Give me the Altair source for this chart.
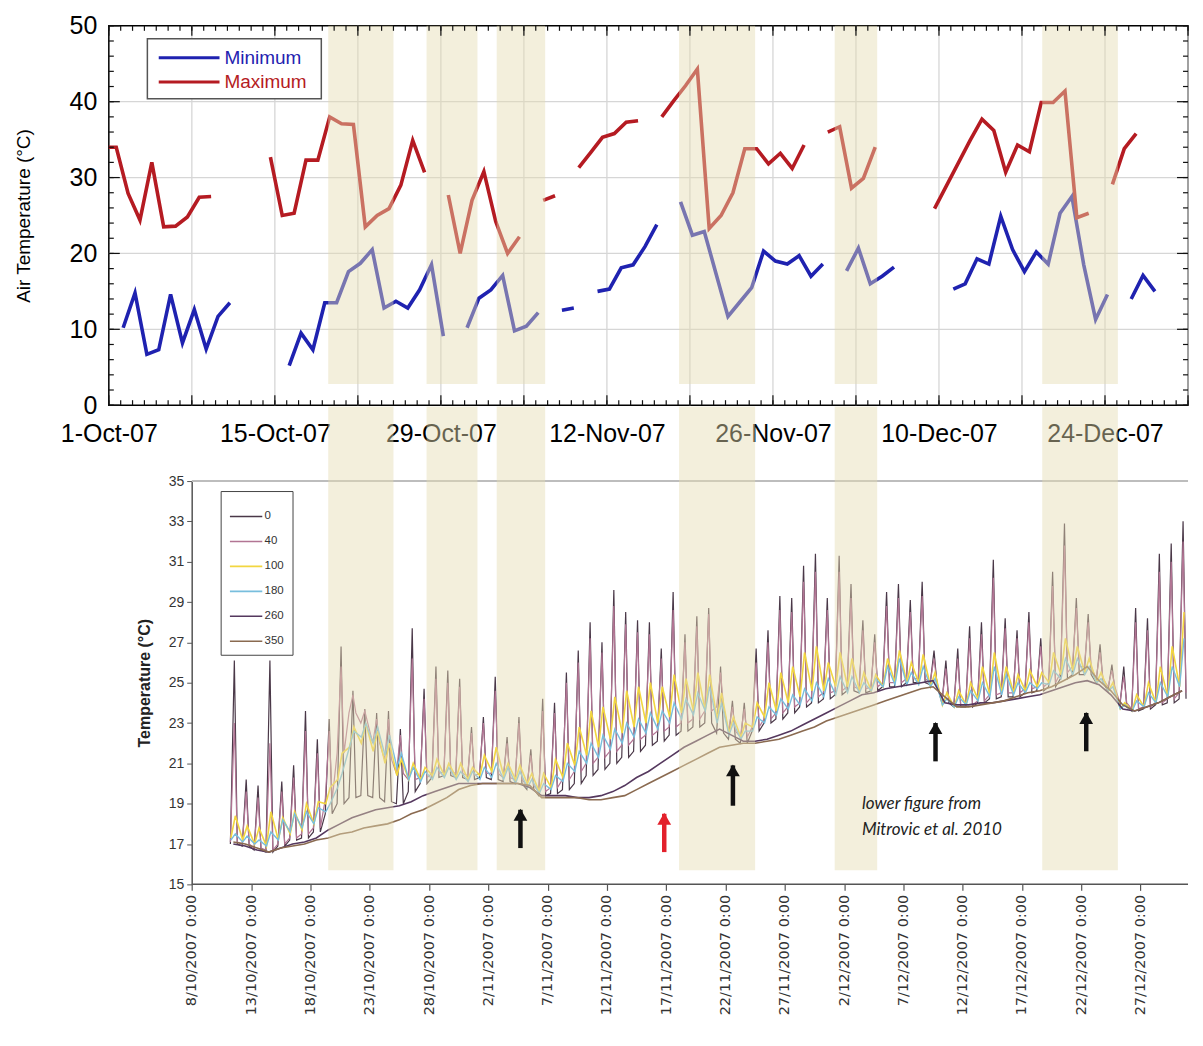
import altair as alt
import pandas as pd

# ---------------- TOP PANEL : daily air temperature (°C) ----------------
MIN_STARTS = ["2007-10-02", "2007-10-16", "2007-10-31", "2007-11-08", "2007-11-11",
              "2007-11-18", "2007-12-02", "2007-12-11", "2007-12-26"]
MIN_VALUES = [
    [10.2, 14.8, 6.7, 7.3, 14.6, 8.2, 12.6, 7.4, 11.7, 13.5],
    [5.2, 9.5, 7.3, 13.5, 13.5, 17.6, 18.7, 20.5, 12.8, 13.7, 12.8, 15.2, 18.5, 9.1],
    [10.2, 14.1, 15.2, 17.1, 9.8, 10.4, 12.2],
    [12.5, 12.8],
    [15.0, 15.3, 18.1, 18.5, 20.9, 23.8],
    [26.8, 22.4, 22.9, 17.3, 11.7, 13.6, 15.5, 20.3, 19.0, 18.6, 19.7, 17.0, 18.6],
    [17.7, 20.7, 16.0, 17.0, 18.2],
    [15.3, 16.0, 19.3, 18.6, 24.9, 20.5, 17.6, 20.2, 18.6, 25.3, 27.5, 18.5, 11.3, 14.6],
    [14.0, 17.1, 15.0],
]
MAX_STARTS = ["2007-09-30", "2007-10-14", "2007-10-29", "2007-11-06", "2007-11-09",
              "2007-11-16", "2007-11-30", "2007-12-09", "2007-12-24"]
MAX_VALUES = [
    [34.0, 34.0, 27.9, 24.4, 32.0, 23.5, 23.6, 24.8, 27.4, 27.5],
    [32.7, 25.0, 25.3, 32.3, 32.3, 38.0, 37.1, 37.0, 23.5, 25.0, 25.9, 29.0, 34.9, 30.7],
    [27.7, 20.0, 27.0, 30.8, 24.2, 20.0, 22.2],
    [27.0, 27.6],
    [31.3, 33.3, 35.3, 35.8, 37.3, 37.5],
    [38.0, 40.1, 42.1, 44.3, 23.3, 25.0, 28.0, 33.8, 33.8, 31.8, 33.2, 31.2, 34.3],
    [36.0, 36.7, 28.6, 29.9, 34.0],
    [25.9, 28.9, 31.9, 34.9, 37.7, 36.2, 30.7, 34.3, 33.4, 39.9, 39.9, 41.4, 24.7, 25.3],
    [29.1, 33.8, 35.8],
]

# shaded periods (common to both panels)
BAND_START = ["2007-10-19T12:00", "2007-10-27T19:00", "2007-11-02T17:00",
              "2007-11-18T02:00", "2007-12-01T05:00", "2007-12-18T17:00"]
BAND_END = ["2007-10-25T00:00", "2007-11-01T02:00", "2007-11-06T19:00",
            "2007-11-24T12:00", "2007-12-04T19:00", "2007-12-25T02:00"]

# ---------------- BOTTOM PANEL : water temperature by depth (°C) ----------------
FIRST_DAY = "2007-10-11"
DEPTHS = ["0", "40", "100", "180", "260", "350"]
COLORS = ["#4a3848", "#b27594", "#f2d640", "#78bedd", "#55385e", "#8a6a50"]

PEAK_0 = [26.1, 20.2, 19.9, 26.1, 20.1, 20.9, 23.6, 22.2,
          23.2, 26.8, 24.6, 23.7, 23.5, 23.6, 22.7,
          27.7, 24.7, 25.8, 25.6, 25.2, 22.8, 23.3, 25.3, 22.3, 23.3, 21.7,
          24.2, 24.0, 25.5, 26.6, 28.0, 27.0, 29.6, 28.5, 28.1, 28.0, 26.7, 29.5, 27.4, 28.3, 28.7,
          25.8, 24.1, 24.0,
          26.7, 27.6, 29.3, 29.2, 30.8, 31.4, 29.2, 31.3, 29.9, 28.1,
          27.4, 29.5, 29.9, 29.1, 30.0, 26.6,
          26.1, 26.7, 27.8, 28.0,
          31.1, 28.2, 27.6, 28.5, 27.2, 30.5, 32.9, 29.2, 28.4, 26.9, 25.9,
          25.8, 28.7, 28.2, 31.4, 31.9, 33.0]
LOW_0 = [17.0, 16.9, 16.7, 16.6, 16.9, 17.2, 17.3, 17.6,
         18.5, 19.0, 19.3, 19.4, 19.3, 19.1, 19.0,
         19.6, 20.0, 20.3, 20.4, 20.3, 20.2, 20.3, 20.2, 20.1, 20.0, 19.7,
         19.4, 19.5, 19.7, 20.0, 20.4, 20.7, 21.0, 21.3, 21.6, 21.9, 22.1, 22.4, 22.6, 22.8, 23.0,
         22.5, 22.2, 22.0,
         22.6, 23.0, 23.2, 23.5, 23.8, 24.0, 24.2, 24.4, 24.6, 24.5,
         24.6, 24.8, 24.8, 25.0, 25.0, 24.9,
         24.0, 23.8, 23.8, 24.0,
         24.2, 24.3, 24.3, 24.5, 24.6, 24.8, 25.2, 25.4, 25.4, 25.0, 24.6,
         23.8, 23.6, 23.7, 23.9, 24.0, 24.2]
PEAK_40 = [23.0, 19.6, 19.3, 22.0, 19.6, 20.3, 22.6, 21.5,
           22.6, 25.8, 24.4, 23.6, 23.2, 23.2, 22.4,
           26.2, 24.2, 25.2, 25.0, 24.8, 22.5, 23.0, 24.6, 22.0, 23.0, 21.4,
           23.6, 23.5, 25.0, 26.0, 27.2, 26.5, 28.8, 27.9, 27.5, 27.4, 26.2, 28.6, 27.0, 27.8, 28.4,
           25.5, 23.8, 23.7,
           26.0, 27.0, 28.6, 28.5, 30.0, 30.5, 28.6, 30.5, 29.2, 27.6,
           27.0, 28.8, 29.2, 28.5, 29.3, 26.2,
           25.7, 26.2, 27.2, 27.4,
           30.2, 27.7, 27.2, 28.0, 26.8, 29.8, 31.8, 28.7, 28.0, 26.5, 25.6,
           25.3, 28.0, 27.6, 30.5, 31.0, 32.0]
LOW_40 = [17.1, 17.0, 16.8, 16.7, 17.0, 17.3, 17.5, 17.8,
          19.2, 21.5, 23.5, 23.0, 22.0, 21.2, 20.5,
          20.2, 20.3, 20.5, 20.6, 20.5, 20.4, 20.5, 20.5, 20.3, 20.2, 19.9,
          19.6, 19.8, 20.2, 20.6, 21.0, 21.3, 21.6, 21.9, 22.2, 22.4, 22.6, 22.8, 23.0, 23.2, 23.6,
          23.8, 22.6, 22.3,
          22.8, 23.2, 23.5, 23.8, 24.0, 24.3, 24.5, 24.6, 24.8, 24.7,
          24.8, 25.0, 25.0, 25.2, 25.2, 25.0,
          24.1, 23.9, 23.9, 24.1,
          24.4, 24.5, 24.5, 24.7, 24.8, 25.0, 25.5, 25.8, 25.8, 25.2, 24.8,
          24.0, 23.7, 23.8, 24.0, 24.2, 24.5]
PEAK_100 = [18.4, 17.9, 17.8, 18.6, 18.3, 18.6, 19.0, 19.1,
            19.8, 21.5, 22.8, 23.0, 22.6, 22.0, 21.2,
            21.0, 20.8, 21.2, 21.0, 21.0, 20.8, 21.4, 21.8, 21.0, 20.9, 20.5,
            20.5, 21.2, 22.0, 22.8, 23.6, 23.8, 24.3, 24.6, 24.8, 25.0, 24.8, 25.4, 25.2, 25.5, 25.4,
            24.5, 23.3, 23.0,
            24.0, 25.0, 25.5, 25.8, 26.5, 26.8, 26.0, 26.5, 26.2, 25.5,
            25.4, 26.2, 26.6, 26.0, 26.4, 25.5,
            24.5, 24.6, 25.0, 25.8,
            26.5, 25.8, 25.4, 25.6, 25.5, 26.5, 27.2, 26.8, 26.2, 25.5, 25.0,
            24.0, 24.4, 25.0, 25.8, 26.8, 28.5]
LOW_100 = [17.3, 17.2, 17.0, 16.9, 17.2, 17.5, 17.7, 18.0,
           19.0, 20.2, 21.8, 22.0, 21.6, 21.0, 20.4,
           20.2, 20.2, 20.4, 20.4, 20.3, 20.2, 20.4, 20.6, 20.4, 20.2, 20.0,
           19.6, 19.8, 20.3, 20.9, 21.4, 21.8, 22.2, 22.5, 22.8, 23.0, 23.0, 23.3, 23.5, 23.6, 23.6,
           23.2, 22.5, 22.3,
           22.8, 23.3, 23.6, 24.0, 24.3, 24.6, 24.6, 24.8, 24.8, 24.6,
           24.6, 24.8, 25.0, 25.0, 25.0, 24.8,
           23.9, 23.8, 23.9, 24.2,
           24.4, 24.5, 24.5, 24.6, 24.8, 25.0, 25.4, 25.6, 25.5, 25.0, 24.6,
           23.7, 23.6, 23.8, 24.0, 24.3, 24.8]
PEAK_180 = [17.5, 17.4, 17.2, 17.6, 18.2, 18.5, 18.6, 18.8,
            19.0, 20.5, 22.6, 23.0, 22.8, 22.4, 21.5,
            20.8, 20.6, 20.8, 20.8, 20.6, 20.6, 20.8, 21.0, 20.8, 20.6, 20.2,
            20.0, 20.4, 21.0, 21.6, 22.0, 22.4, 22.7, 23.0, 23.2, 23.5, 23.6, 24.0, 24.2, 24.5, 24.8,
            24.0, 23.0, 22.6,
            23.3, 23.8, 24.2, 24.4, 24.7, 25.0, 25.2, 25.3, 25.3, 25.0,
            25.2, 25.8, 26.2, 25.5, 25.8, 25.2,
            24.2, 24.3, 24.6, 25.0,
            25.8, 25.4, 25.0, 25.0, 25.0, 25.6, 26.2, 26.2, 25.8, 25.2, 24.8,
            23.9, 24.1, 24.5, 25.0, 25.8, 27.2]
LOW_180 = [17.2, 17.1, 17.0, 16.9, 17.2, 17.6, 17.8, 18.0,
           18.6, 19.8, 21.8, 22.3, 22.0, 21.4, 20.8,
           20.2, 20.1, 20.2, 20.3, 20.2, 20.1, 20.2, 20.3, 20.2, 20.0, 19.8,
           19.5, 19.7, 20.1, 20.6, 21.0, 21.3, 21.7, 22.0, 22.3, 22.5, 22.7, 23.0, 23.2, 23.4, 23.6,
           23.0, 22.4, 22.2,
           22.6, 23.0, 23.4, 23.7, 23.9, 24.1, 24.3, 24.4, 24.5, 24.5,
           24.6, 24.8, 24.9, 24.9, 24.9, 24.8,
           23.9, 23.8, 23.9, 24.1,
           24.3, 24.4, 24.4, 24.5, 24.7, 24.9, 25.2, 25.4, 25.4, 25.0, 24.6,
           23.7, 23.6, 23.8, 24.0, 24.3, 24.8]
DAILY_260 = [17.0, 16.9, 16.7, 16.6, 16.8, 17.0, 17.1, 17.3,
             17.7, 18.0, 18.3, 18.5, 18.7, 18.8, 18.9,
             19.1, 19.4, 19.6, 19.8, 20.0, 20.0, 20.0, 20.0, 20.0, 20.0, 19.8,
             19.4, 19.4, 19.4, 19.3, 19.3, 19.4, 19.6, 19.9, 20.3, 20.6, 21.0, 21.4, 21.8, 22.1, 22.4,
             22.7, 22.4, 22.1,
             22.1, 22.2, 22.4, 22.6, 22.9, 23.2, 23.5, 23.8, 24.1, 24.4,
             24.5, 24.7, 24.8, 24.9, 25.0, 25.1,
             24.0, 23.9, 23.9, 24.0,
             24.0, 24.1, 24.2, 24.3, 24.4, 24.6, 24.8, 25.0, 25.1, 24.9, 24.4,
             23.7, 23.6, 23.8, 24.0, 24.3, 24.6]
DAILY_350 = [17.1, 17.0, 16.8, 16.6, 16.8, 16.9, 17.0, 17.2,
             17.3, 17.5, 17.6, 17.8, 17.9, 18.0, 18.2,
             18.5, 18.7, 19.0, 19.3, 19.7, 19.9, 20.0, 20.0, 20.0, 20.0, 19.9,
             19.3, 19.3, 19.3, 19.3, 19.2, 19.2, 19.3, 19.4, 19.7, 20.0, 20.3, 20.6, 20.9, 21.2, 21.5,
             21.8, 21.9, 22.0,
             22.0, 22.1, 22.2, 22.4, 22.6, 22.8, 23.1, 23.3, 23.5, 23.7,
             23.9, 24.1, 24.3, 24.5, 24.7, 24.8,
             24.3, 23.8, 23.8, 23.9,
             24.0, 24.1, 24.3, 24.5, 24.6, 24.8, 25.1, 25.4, 25.8, 25.1, 24.6,
             23.9, 23.6, 23.8, 24.0, 24.3, 24.6]

ARROW_TIME = ["2007-11-04T17:00", "2007-11-16T20:00", "2007-11-22T15:00",
              "2007-12-09T17:00", "2007-12-22T10:00"]
ARROW_BASE = [16.8, 16.6, 18.9, 21.1, 21.6]
ARROW_TIP = [18.7, 18.5, 20.9, 23.0, 23.5]
ARROW_COLOR = ["#111111", "#e3202b", "#111111", "#111111", "#111111"]

NOTE_TIME = "2007-12-03T12:00"
NOTE_LINES = ["lower figure from", "Mitrovic et al. 2010"]
NOTE_Y = [19.0, 17.7]

BOTTOM_TICKS = pd.date_range("2007-10-08", "2007-12-27", freq="5D")
TOP_LABELS = pd.date_range("2007-10-01", "2007-12-24", freq="14D")

# ---------------- helpers ----------------
def iso(ts):
    return pd.Timestamp(ts).strftime("%Y-%m-%dT%H:%M:%S")

def dt(ts):
    ts = pd.Timestamp(ts)
    return alt.DateTime(year=ts.year, month=ts.month, date=ts.day)

W, H1, H2 = 1081, 380, 404
BLUE, RED = "#1f22b0", "#b51b22"
BAND_COLOR = "#e4dbb1"
FONT = "Liberation Sans"

x_scale = alt.Scale(domain=[dt("2007-10-01"), dt("2007-12-31")])

# ================= TOP CHART =================
top_x_axis = alt.Axis(values=[dt(d) for d in TOP_LABELS], format="%-d-%b-%y",
                      labelFontSize=25, labelFont=FONT, labelColor="#000",
                      ticks=False, domain=False, grid=False, title=None,
                      labelPadding=16, labelOverlap=False, labelFlush=False)
top_y_axis = alt.Axis(values=[0, 10, 20, 30, 40, 50], labelFontSize=25, labelFont=FONT,
                      labelColor="#000", ticks=False, domain=False, grid=False,
                      title="Air Temperature (°C)", titleFontSize=19,
                      titleFontWeight="normal", titleFont=FONT, titleColor="#000",
                      titlePadding=36, labelPadding=12)
y_top = alt.Scale(domain=[0, 50], nice=False, zero=False)

def XT(f="t"):
    return alt.X(f + ":T", scale=x_scale, axis=top_x_axis)

def YT(f="v"):
    return alt.Y(f + ":Q", scale=y_top, axis=top_y_axis)

def seg_frame(starts, values, hour):
    rows = []
    for si, (s, vals) in enumerate(zip(starts, values)):
        for k, v in enumerate(vals):
            t = pd.Timestamp(s) + pd.Timedelta(days=k, hours=hour)
            rows.append({"t": iso(t), "v": v, "seg": si})
    return pd.DataFrame(rows)

min_df = seg_frame(MIN_STARTS, MIN_VALUES, 5)
max_df = seg_frame(MAX_STARTS, MAX_VALUES, 15)

weeks = pd.date_range("2007-10-08", "2007-12-31", freq="7D")
grid_v = alt.Chart(pd.DataFrame({"t": [iso(d) for d in weeks]})).mark_rule(
    color="#d6d6d6", strokeWidth=1.3).encode(x=XT())
grid_h = alt.Chart(pd.DataFrame({"v": [10, 20, 30, 40]})).mark_rule(
    color="#d6d6d6", strokeWidth=1.3).encode(y=YT())

line_min = alt.Chart(min_df).mark_line(color=BLUE, strokeWidth=3.6, clip=True).encode(
    x=XT(), y=YT(), detail="seg:N")
line_max = alt.Chart(max_df).mark_line(color=RED, strokeWidth=3.6, clip=True).encode(
    x=XT(), y=YT(), detail="seg:N")

bands_top = alt.Chart(pd.DataFrame({"t": BAND_START, "t2": BAND_END,
                                    "v": [2.8] * 6, "v2": [50] * 6})).mark_rect(
    color=BAND_COLOR, opacity=0.45).encode(
    x=XT(), x2="t2:T", y=YT(), y2="v2:Q")

# legend (inside plot, top-left)
leg_box = alt.Chart(pd.DataFrame({"t": ["2007-10-04T06:00"], "t2": ["2007-10-18T22:00"],
                                  "v": [40.4], "v2": [48.3]})).mark_rect(
    fill="white", stroke="#555", strokeWidth=1.5).encode(x=XT(), x2="t2:T", y=YT(), y2="v2:Q")
leg_df = pd.DataFrame({"t": ["2007-10-05T05:00"] * 2, "t2": ["2007-10-10T08:00"] * 2,
                       "tt": ["2007-10-10T18:00"] * 2, "v": [45.8, 42.6],
                       "label": ["Minimum", "Maximum"], "c": [BLUE, RED]})
leg_lines = alt.Chart(leg_df).mark_rule(strokeWidth=3).encode(
    x=XT(), x2="t2:T", y=YT(), color=alt.Color("c:N", scale=None))
leg_text = alt.Chart(leg_df).mark_text(align="left", baseline="middle", fontSize=19,
                                       font=FONT).encode(
    x=XT("tt"), y=YT(), text="label:N", color=alt.Color("c:N", scale=None))

# tick marks on all four sides (inward)
days = pd.date_range("2007-10-01", "2007-12-31", freq="D")
wk = pd.date_range("2007-10-01", "2007-12-31", freq="7D")
d_df = pd.DataFrame({"t": [iso(d) for d in days]})
w_df = pd.DataFrame({"t": [iso(d) for d in wk]})
ymin_df = pd.DataFrame({"v": list(range(0, 51, 2))})
ymaj_df = pd.DataFrame({"v": list(range(0, 51, 10))})
tk = dict(color="#111", strokeWidth=1.2)
ticks = [
    alt.Chart(d_df).mark_rule(**tk).encode(x=XT(), y=alt.value(H1), y2=alt.value(H1 - 5)),
    alt.Chart(d_df).mark_rule(**tk).encode(x=XT(), y=alt.value(0), y2=alt.value(5)),
    alt.Chart(w_df).mark_rule(**tk).encode(x=XT(), y=alt.value(H1), y2=alt.value(H1 - 10)),
    alt.Chart(w_df).mark_rule(**tk).encode(x=XT(), y=alt.value(0), y2=alt.value(10)),
    alt.Chart(ymin_df).mark_rule(**tk).encode(y=YT(), x=alt.value(0), x2=alt.value(5)),
    alt.Chart(ymin_df).mark_rule(**tk).encode(y=YT(), x=alt.value(W), x2=alt.value(W - 5)),
    alt.Chart(ymaj_df).mark_rule(**tk).encode(y=YT(), x=alt.value(0), x2=alt.value(11)),
    alt.Chart(ymaj_df).mark_rule(**tk).encode(y=YT(), x=alt.value(W), x2=alt.value(W - 11)),
]

top = alt.layer(grid_v, grid_h, line_min, line_max, bands_top, leg_box, leg_lines,
                leg_text, *ticks).properties(
    width=W, height=H1, view=alt.ViewBackground(stroke="#000", strokeWidth=1.5))

# ================= BOTTOM CHART =================
y_bot = alt.Scale(domain=[15, 35], nice=False, zero=False)
bot_x_axis = alt.Axis(values=[dt(d) for d in BOTTOM_TICKS], format="%-d/%-m/%Y %-H:%M",
                      labelAngle=270, labelFontSize=14.5, labelFont="DejaVu Sans",
                      labelColor="#333", tickSize=6, tickColor="#555", tickWidth=1.2,
                      domain=False, grid=False, title=None, labelPadding=4,
                      labelOverlap=False, labelFlush=False)
bot_y_axis = alt.Axis(values=list(range(15, 36, 2)), offset=-83, labelFontSize=14,
                      labelFont=FONT, labelColor="#333", tickSize=5, tickColor="#555",
                      domainColor="#555", domainWidth=1.5, grid=False,
                      title="Temperature (°C)", titleFontSize=16, titleFontWeight="bold",
                      titleFont=FONT, titleColor="#222", titlePadding=16, labelPadding=3)

def XB(f="t"):
    return alt.X(f + ":T", scale=x_scale, axis=bot_x_axis)

def YB(f="v"):
    return alt.Y(f + ":Q", scale=y_bot, axis=bot_y_axis)

legend = alt.Legend(orient="none", legendX=112, legendY=10, title=None,
                    symbolType="stroke", symbolSize=1050, symbolStrokeWidth=1.6,
                    labelFontSize=11.5, labelFont=FONT, labelColor="#333",
                    strokeColor="#444", fillColor="white", padding=8,
                    rowPadding=2, labelOffset=1)
color_enc = alt.Color("depth:N", scale=alt.Scale(domain=DEPTHS, range=COLORS), legend=legend)

day0 = pd.Timestamp(FIRST_DAY)

def spiky(depth, peaks, lows):
    rows = []
    for i, (p, lo) in enumerate(zip(peaks, lows)):
        d = day0 + pd.Timedelta(days=i)
        rows += [{"t": iso(d + pd.Timedelta(hours=6)), "v": lo},
                 {"t": iso(d + pd.Timedelta(hours=14)), "v": p},
                 {"t": iso(d + pd.Timedelta(hours=20)), "v": lo}]
    df = pd.DataFrame(rows)
    df["depth"] = depth
    return df

def smooth(depth, peaks, lows):
    rows = []
    for i, (p, lo) in enumerate(zip(peaks, lows)):
        d = day0 + pd.Timedelta(days=i)
        rows += [{"t": iso(d + pd.Timedelta(hours=7)), "v": lo},
                 {"t": iso(d + pd.Timedelta(hours=16)), "v": p}]
    df = pd.DataFrame(rows)
    df["depth"] = depth
    return df

def daily(depth, vals):
    df = pd.DataFrame({"t": [iso(day0 + pd.Timedelta(days=i, hours=12)) for i in range(len(vals))],
                       "v": vals})
    df["depth"] = depth
    return df

series = [
    (spiky("0", PEAK_0, LOW_0), 1.2),
    (spiky("40", PEAK_40, LOW_40), 1.2),
    (smooth("100", PEAK_100, LOW_100), 1.6),
    (smooth("180", PEAK_180, LOW_180), 1.4),
    (daily("260", DAILY_260), 1.6),
    (daily("350", DAILY_350), 1.6),
]
lines_bot = [alt.Chart(df).mark_line(strokeWidth=w).encode(x=XB(), y=YB(), color=color_enc)
             for df, w in series]

start_df = pd.DataFrame({"t": [iso("2007-10-08")]})
top_rule = alt.Chart(start_df).mark_rule(color="#bdbdbd", strokeWidth=2).encode(
    x=XB(), x2=alt.value(W), y=alt.value(0))
x_rule = alt.Chart(start_df).mark_rule(color="#555", strokeWidth=1.5).encode(
    x=XB(), x2=alt.value(W), y=alt.value(H2))

bands_bot = alt.Chart(pd.DataFrame({"t": BAND_START, "t2": BAND_END,
                                    "v": [15.7] * 6, "v2": [38.7] * 6})).mark_rect(
    color=BAND_COLOR, opacity=0.45).encode(x=XB(), x2="t2:T", y=YB(), y2="v2:Q")

arrow_df = pd.DataFrame({"t": ARROW_TIME, "v": ARROW_BASE, "v2": ARROW_TIP, "c": ARROW_COLOR})
shafts = alt.Chart(arrow_df).mark_rule(strokeWidth=4.5).encode(
    x=XB(), y=YB(), y2="v2:Q", color=alt.Color("c:N", scale=None))
heads = alt.Chart(arrow_df).mark_point(shape="triangle-up", filled=True, size=190,
                                       opacity=1, yOffset=5).encode(
    x=XB(), y=YB("v2"), color=alt.Color("c:N", scale=None))

note = alt.Chart(pd.DataFrame({"t": [NOTE_TIME] * 2, "v": NOTE_Y, "txt": NOTE_LINES})).mark_text(
    align="left", baseline="middle", font="Lato", fontStyle="italic", fontSize=17,
    color="#222").encode(x=XB(), y=YB(), text="txt:N")

bottom = alt.layer(*lines_bot, top_rule, x_rule, bands_bot, shafts, heads, note).properties(
    width=W, height=H2, view=alt.ViewBackground(stroke="transparent", strokeWidth=0))

chart = alt.vconcat(top, bottom, spacing=76, bounds="flush").resolve_scale(
    x="independent", y="independent", color="independent").properties(
    padding={"left": 5, "top": 4, "right": 5, "bottom": 0}).configure_view(
    stroke="transparent", strokeWidth=0).configure(font=FONT)

chart.save("out.html", embed_options={"renderer": "svg", "actions": False})
